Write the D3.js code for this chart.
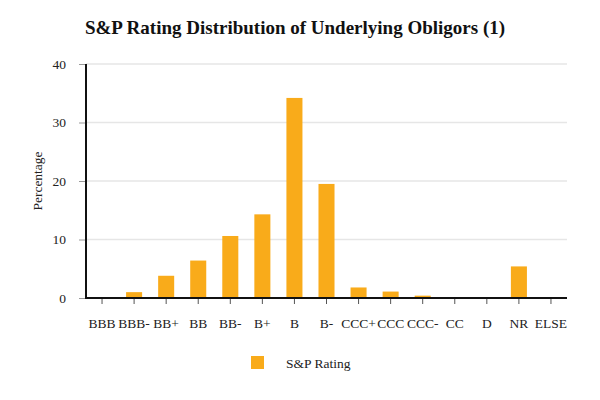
<!DOCTYPE html>
<html><head><meta charset="utf-8">
<script src="https://cdn.jsdelivr.net/npm/d3@7"></script>
<style>body{margin:0;background:#fff}svg{display:block}svg text{font-family:"Liberation Serif","Times New Roman",serif !important}</style>
</head><body><svg id="c" width="600" height="400"></svg>
<script>
const categories = ["BBB","BBB-","BB+","BB","BB-","B+","B","B-","CCC+","CCC","CCC-","CC","D","NR","ELSE"];
const values = [0, 1.0, 3.8, 6.4, 10.6, 14.3, 34.2, 19.5, 1.8, 1.1, 0.4, 0, 0, 5.4, 0];
const yTicks = [0, 10, 20, 30, 40];
const seriesName = "S&P Rating";
const title = "S&P Rating Distribution of Underlying Obligors (1)";

const svg = d3.select("#c");
const m = {l:86, r:33, t:64, b:102};
const W = 600, H = 400;
const x = d3.scaleBand().domain(categories).range([m.l, W - m.r]).paddingInner(0.5).paddingOuter(0.25);
const y = d3.scaleLinear().domain([0, 40]).range([H - m.b, m.t]);
const color = "#f9ab1a";

svg.append("text").attr("x", 295).attr("y", 34).attr("text-anchor","middle")
  .style("font-size","19px").attr("font-weight","bold").attr("fill","#111").text(title);

// grid
svg.append("g").selectAll("line").data(yTicks.filter(d=>d>0)).join("line")
  .attr("x1", m.l).attr("x2", W - m.r).attr("y1", d=>y(d)).attr("y2", d=>y(d))
  .attr("stroke","#e6e6e6").attr("stroke-width",1.5);

// y axis
const ya = svg.append("g").attr("transform",`translate(${m.l},0)`)
  .call(d3.axisLeft(y).tickValues(yTicks).tickSize(7).tickPadding(13));
ya.attr("font-family",null).attr("font-size",null);
ya.select(".domain").remove();
ya.selectAll(".tick line").attr("stroke","#999");
ya.selectAll(".tick text").style("font-size","13.5px").attr("fill","#222");

// bars
svg.append("g").selectAll("rect").data(categories).join("rect")
  .attr("x", d=>x(d)).attr("width", x.bandwidth())
  .attr("y", (d,i)=>y(values[i])).attr("height", (d,i)=>y(0)-y(values[i]))
  .attr("fill", color);

// x axis
const xa = svg.append("g").attr("transform",`translate(0,${y(0)})`)
  .call(d3.axisBottom(x).tickSize(6).tickPadding(14));
xa.attr("font-family",null).attr("font-size",null);
xa.select(".domain").remove();
xa.selectAll(".tick line").attr("stroke","#555");
xa.selectAll(".tick text").style("font-size","13.5px").attr("fill","#222");

svg.append("line").attr("x1", m.l).attr("x2", W - m.r).attr("y1", y(0)).attr("y2", y(0))
  .attr("stroke","#111").attr("stroke-width",2);
svg.append("line").attr("x1", m.l).attr("x2", m.l).attr("y1", y(40)).attr("y2", y(0)+1)
  .attr("stroke","#111").attr("stroke-width",2);

svg.append("text").attr("transform",`translate(42,${(y(0)+y(40))/2}) rotate(-90)`)
  .attr("text-anchor","middle").style("font-size","13.5px").attr("fill","#222").text("Percentage");

// legend
svg.append("rect").attr("x",251).attr("y",356).attr("width",13).attr("height",13).attr("fill",color);
svg.append("text").attr("x",286).attr("y",368).style("font-size","13.5px").attr("fill","#222").text(seriesName);
</script></body></html>
